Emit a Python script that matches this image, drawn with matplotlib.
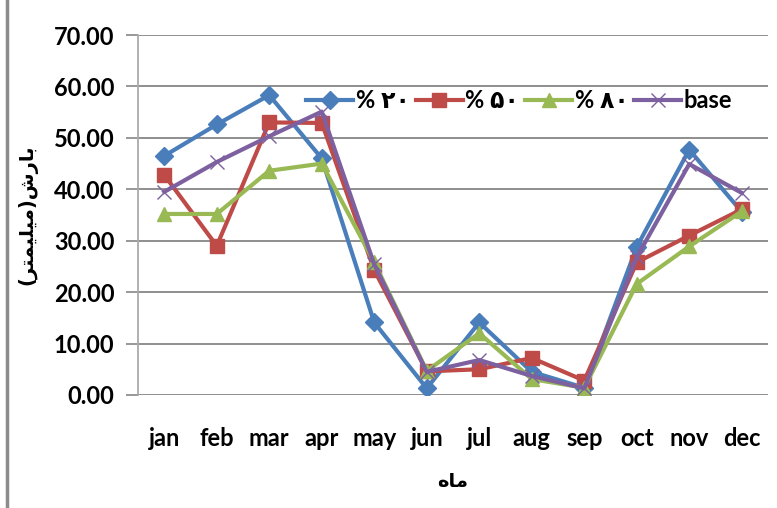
import numpy as np
import matplotlib
matplotlib.use('Agg')
import matplotlib.pyplot as plt
from matplotlib.lines import Line2D

# ── Data ──────────────────────────────────────────────────────────────────────
MONTHS = ['jan', 'feb', 'mar', 'apr', 'may', 'jun',
          'jul', 'aug', 'sep', 'oct', 'nov', 'dec']
P20  = [46.5, 52.6, 58.3, 46.0, 14.1, 1.3, 14.1, 4.5, 1.4, 28.8, 47.7, 35.6]
P50  = [42.8, 29.0, 53.0, 52.9, 24.3, 4.6, 5.0, 7.2, 2.8, 25.8, 31.0, 36.1]
P80  = [35.2, 35.2, 43.6, 45.0, 25.8, 4.7, 12.0, 3.1, 1.4, 21.6, 28.9, 35.7]
BASE = [39.5, 45.3, 50.3, 55.1, 25.4, 4.5, 6.8, 3.7, 1.3, 26.8, 44.9, 39.3]

LABELS = ['% ۲۰', '% ۵۰', '% ۸۰', 'base']
YTICKS = np.arange(0, 80, 10)

# Persian text in visual order (presentation forms, no shaping in mpl)
YLABEL = '(\ufeae\ufe98\ufee4\ufef4\ufee0\ufef4\ufee3)\ufeb5\ufead\ufe8e\ufe91'
XLABEL = '\ufee9\ufe8e\ufee3'

# ── Styles ────────────────────────────────────────────────────────────────────
STYLES = [
    dict(color='#4a7ebb', marker='D', ms=9),
    dict(color='#be4b48', marker='s', ms=10),
    dict(color='#98b954', marker='^', ms=10),
    dict(color='#7d60a0', marker='x', ms=10, mew=1.0),
]
FONT = ['Lato', 'DejaVu Sans']
GRID = '#868686'

fig = plt.figure(figsize=(7.77, 5.08), dpi=100)
ax = fig.add_axes([138/777, 113/508, 630/777, 360/508])

x = np.arange(len(MONTHS))
for vals, lbl, st in zip([P20, P50, P80, BASE], LABELS, STYLES):
    ax.plot(x, vals, lw=3, label=lbl, **st)

ax.set_xlim(-0.5, len(MONTHS) - 0.5)
ax.set_ylim(0, 70)
ax.set_yticks(YTICKS)
ax.set_yticklabels([f'{v:.2f}' for v in YTICKS], fontsize=17,
                   fontweight='bold', family=FONT)
ax.set_xticks(x)
ax.set_xticklabels(MONTHS, fontsize=17, fontweight='bold', family=FONT)
ax.tick_params(axis='x', length=0, pad=23)
ax.tick_params(axis='y', length=9, width=1.2, color=GRID, pad=8)

ax.yaxis.grid(True, color=GRID, lw=1.3)
ax.set_axisbelow(True)
for s in ['top', 'right', 'bottom']:
    ax.spines[s].set_visible(False)
ax.spines['left'].set_color('#aaaaaa')
ax.spines['left'].set_linewidth(1.3)

ax.set_ylabel(YLABEL, fontsize=14, fontweight='bold',
              family=['DejaVu Sans'], labelpad=12)
ax.set_xlabel(XLABEL, fontsize=14, fontweight='bold',
              family=['DejaVu Sans'], labelpad=16)

ax.legend(loc='upper left', bbox_to_anchor=(0.252, 0.875), ncol=4,
          frameon=False, handlelength=2.0, handletextpad=0.1,
          columnspacing=0.25, borderaxespad=0,
          prop=dict(family=FONT, size=17, weight='bold'))

# outer chart border (left edge visible)
fig.add_artist(Line2D([7/777, 7/777], [0, 1], color='#8c8c8c', lw=2.5,
                      transform=fig.transFigure))

fig.savefig('out.png', dpi=100)
